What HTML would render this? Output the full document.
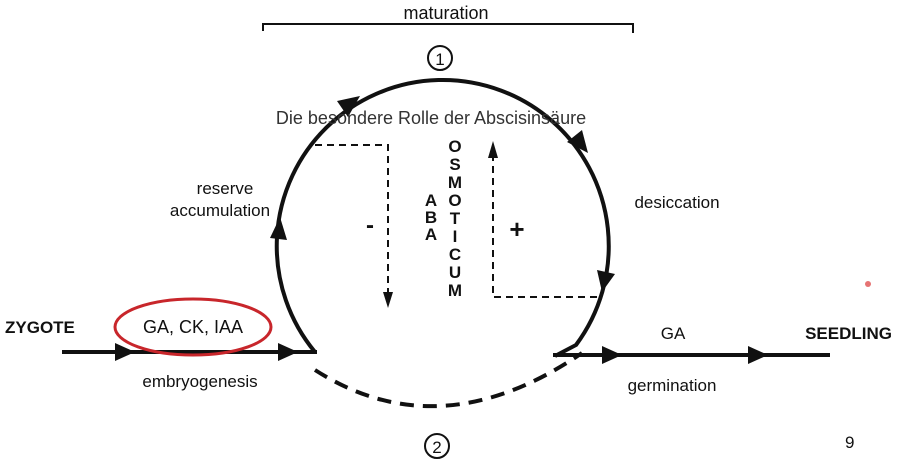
<!DOCTYPE html>
<html><head><meta charset="utf-8"><style>
html,body{margin:0;padding:0;background:#fff;}
svg{display:block;font-family:"Liberation Sans",Arial,sans-serif;}
</style></head><body>
<svg width="903" height="464" viewBox="0 0 903 464" xmlns="http://www.w3.org/2000/svg">
<rect width="903" height="464" fill="#fff"/>
<text x="446" y="19" font-size="18" text-anchor="middle" fill="#111">maturation</text>
<path d="M263 31 V24 H633 V33" fill="none" stroke="#111" stroke-width="2"/>
<circle cx="440" cy="58" r="12" fill="none" stroke="#111" stroke-width="2"/>
<text x="440" y="65" font-size="17" text-anchor="middle" fill="#111">1</text>
<!-- main arc -->
<path d="M315 352 A166 166 0 1 1 576 345 L555 356" fill="none" stroke="#111" stroke-width="4" stroke-linejoin="miter"/>
<!-- arrowheads on circle -->
<polygon points="360,96 348,117 337,101" fill="#111"/>
<polygon points="588,153 567,142 582,130" fill="#111"/>
<polygon points="602,292 597,270 615,274" fill="#111"/>
<polygon points="280,217 287,240 270,238" fill="#111"/>
<!-- dashed bottom arc -->
<path d="M315 370 Q440 450 582 353" fill="none" stroke="#111" stroke-width="4" stroke-dasharray="14 9"/>
<circle cx="437" cy="446" r="12" fill="none" stroke="#111" stroke-width="2"/>
<text x="437" y="453" font-size="17" text-anchor="middle" fill="#111">2</text>
<!-- horizontal lines -->
<line x1="62" y1="352" x2="317" y2="352" stroke="#111" stroke-width="4"/>
<polygon points="135,352 115,343 115,361" fill="#111"/>
<polygon points="298,352 278,343 278,361" fill="#111"/>
<line x1="553" y1="355" x2="830" y2="355" stroke="#111" stroke-width="4"/>
<polygon points="622,355 602,346 602,364" fill="#111"/>
<polygon points="768,355 748,346 748,364" fill="#111"/>
<!-- red ellipse -->
<ellipse cx="193" cy="327" rx="78" ry="28" fill="none" stroke="#c8262b" stroke-width="3"/>
<text x="5" y="333" font-size="17" font-weight="bold" fill="#111">ZYGOTE</text>
<text x="193" y="333" font-size="18" text-anchor="middle" fill="#111">GA, CK, IAA</text>
<text x="200" y="387" font-size="17" text-anchor="middle" fill="#111">embryogenesis</text>
<text x="673" y="339" font-size="17" text-anchor="middle" fill="#111">GA</text>
<text x="672" y="391" font-size="17" text-anchor="middle" fill="#111">germination</text>
<text x="892" y="339" font-size="17" font-weight="bold" text-anchor="end" fill="#111">SEEDLING</text>
<text x="845" y="448" font-size="17" fill="#111">9</text>
<text x="225" y="194" font-size="17" text-anchor="middle" fill="#111">reserve</text>
<text x="220" y="216" font-size="17" text-anchor="middle" fill="#111">accumulation</text>
<text x="677" y="208" font-size="17" text-anchor="middle" fill="#111">desiccation</text>
<text x="431" y="124" font-size="18" text-anchor="middle" fill="#333">Die besondere Rolle der Abscisinsäure</text>
<!-- dashed feedback -->
<path d="M315 145 H388 V300" fill="none" stroke="#111" stroke-width="2" stroke-dasharray="7 5"/>
<polygon points="388,308 383,292 393,292" fill="#111"/>
<path d="M597 297 H493 V150" fill="none" stroke="#111" stroke-width="2" stroke-dasharray="7 5"/>
<polygon points="493,141 488,158 498,158" fill="#111"/>
<text x="370" y="233" font-size="24" font-weight="bold" text-anchor="middle" fill="#111">-</text>
<text x="517" y="238" font-size="26" font-weight="bold" text-anchor="middle" fill="#111">+</text>
<g font-size="17" font-weight="bold" text-anchor="middle" fill="#111">
<text x="431" y="206">A</text><text x="431" y="223">B</text><text x="431" y="240">A</text>
<text x="455" y="152">O</text><text x="455" y="170">S</text><text x="455" y="188">M</text>
<text x="455" y="206">O</text><text x="455" y="224">T</text><text x="455" y="242">I</text>
<text x="455" y="260">C</text><text x="455" y="278">U</text><text x="455" y="296">M</text>
</g>
<circle cx="868" cy="284" r="3" fill="#e05050" opacity="0.8"/>
</svg>
</body></html>
